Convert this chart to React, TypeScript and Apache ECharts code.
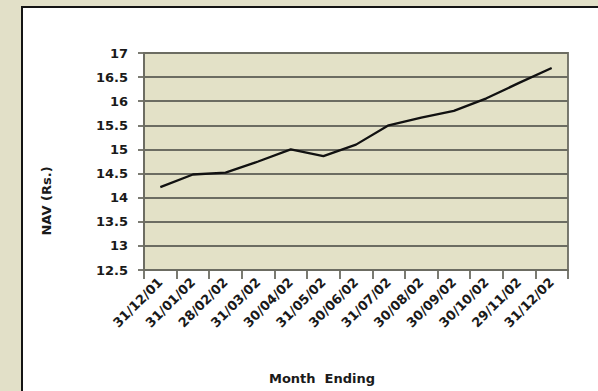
import React, { useEffect, useRef } from "react";
import * as echarts from "echarts";

const monthEnds = [
  "31/12/01", "31/01/02", "28/02/02", "31/03/02", "30/04/02", "31/05/02", "30/06/02",
  "31/07/02", "30/08/02", "30/09/02", "30/10/02", "29/11/02", "31/12/02",
];
const navValues = [14.22, 14.48, 14.52, 14.75, 15.0, 14.86, 15.1, 15.5, 15.66, 15.8, 16.06, 16.38, 16.69];
const yMin = 12.5;
const yMax = 17;
const yStep = 0.5;

const yAxisTitle = "NAV (Rs.)";
const xAxisTitle = "Month  Ending";

const FONT = "'DejaVu Sans', sans-serif";
const INK = "#1a1a1a";
const GRID = "#6c6c62";
const PLOT_BG = "#e3e1c7";

export default function App() {
  const ref = useRef<HTMLDivElement>(null);

  useEffect(() => {
    if (!ref.current) return;
    const chart = echarts.init(ref.current, undefined, { renderer: "svg" });
    chart.setOption({
      animation: false,
      backgroundColor: "transparent",
      grid: {
        left: 144,
        top: 53,
        right: 30,
        bottom: 121,
        show: true,
        backgroundColor: PLOT_BG,
        borderColor: GRID,
        borderWidth: 1.8,
      },
      xAxis: {
        type: "category",
        data: monthEnds,
        boundaryGap: true,
        axisLine: { show: true, lineStyle: { color: GRID, width: 1.8 } },
        axisTick: { show: true, length: 9, alignWithLabel: false, lineStyle: { color: GRID, width: 1.8 } },
        axisLabel: {
          rotate: 45,
          interval: 0,
          margin: 10,
          color: INK,
          fontFamily: FONT,
          fontWeight: "bold",
          fontSize: 13,
        },
        splitLine: { show: false },
      },
      yAxis: {
        type: "value",
        min: yMin,
        max: yMax,
        interval: yStep,
        axisLine: { show: true, lineStyle: { color: GRID, width: 1.8 } },
        axisTick: { show: true, length: 6, lineStyle: { color: GRID, width: 1.8 } },
        axisLabel: {
          margin: 16,
          color: INK,
          fontFamily: FONT,
          fontWeight: "bold",
          fontSize: 13,
        },
        splitLine: { show: true, lineStyle: { color: GRID, width: 1.8 } },
      },
      series: [
        {
          type: "line",
          data: navValues,
          symbol: "none",
          lineStyle: { color: "#111111", width: 2.3 },
        },
      ],
      graphic: [
        {
          type: "text",
          x: 46,
          y: 201,
          rotation: Math.PI / 2,
          style: {
            text: yAxisTitle,
            fill: INK,
            font: `bold 13px ${FONT}`,
            textAlign: "center",
            textVerticalAlign: "middle",
          },
        },
        {
          type: "text",
          x: 322,
          y: 378,
          style: {
            text: xAxisTitle,
            fill: INK,
            font: `bold 13px ${FONT}`,
            textAlign: "center",
            textVerticalAlign: "middle",
          },
        },
      ],
    });
    return () => chart.dispose();
  }, []);

  return (
    <div
      style={{
        position: "fixed",
        left: 0,
        top: 0,
        width: 598,
        height: 391,
        overflow: "hidden",
        background: "#e2e0c8",
      }}
    >
      <div
        style={{
          position: "absolute",
          left: 21,
          top: 6,
          width: 600,
          height: 400,
          background: "#ffffff",
          borderLeft: "2px solid #141414",
          borderTop: "2px solid #141414",
          boxShadow: "1px 1px 0 #b8b8b0",
        }}
      />
      <div ref={ref} style={{ position: "absolute", left: 0, top: 0, width: 598, height: 391 }} />
    </div>
  );
}
